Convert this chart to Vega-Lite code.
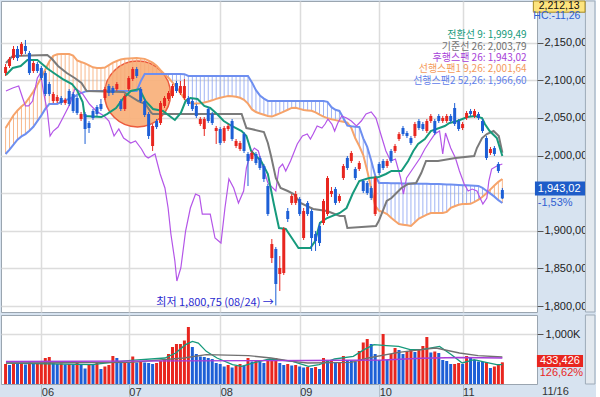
{
"$schema": "https://vega.github.io/schema/vega-lite/v6.json",
"padding": 0,
"autosize": {"type": "pad"},
"background": "#d7e3f0",
"spacing": 1,
"config": {
  "view": {"fill": "white", "stroke": "#9aa5b0", "strokeWidth": 1},
  "axis": {"labelFont": "Liberation Sans Narrow, Liberation Sans", "labelFontSize": 11, "labelColor": "#222", "gridColor": "#dcdcdc", "gridWidth": 1.5, "tickColor": "#555", "title": null, "labelOverlap": false},
  "text": {"font": "Noto Sans CJK KR", "fontSize": 11},
  "concat": {"spacing": 1}
},
"datasets": {
"d": [
{"i":-9,"o":2109.7,"h":2121.7,"l":2105.7,"c":2117.7,"v":400000,"a":2036.6,"b":2002.1},
{"i":-8,"o":2119.0,"h":2131.0,"l":2116.4,"c":2128.3,"v":380000,"a":2044.9,"b":2007.9},
{"i":-7,"o":2129.6,"h":2145.6,"l":2127.0,"c":2141.6,"v":410000,"a":2053.6,"b":2014.6},
{"i":-6,"o":2141.6,"h":2145.6,"l":2125.7,"c":2129.6,"v":400000,"a":2059.9,"b":2021.2},
{"i":-5,"o":2135.0,"h":2150.9,"l":2132.3,"c":2148.3,"v":420000,"a":2065.1,"b":2025.5},
{"i":-4,"o":2145.6,"h":2153.6,"l":2135.0,"c":2139.0,"v":390000,"a":2069.6,"b":2028.5},
{"i":-3,"o":2136.3,"h":2139.0,"l":2107.1,"c":2109.7,"v":430000,"a":2077.2,"b":2033.0},
{"i":-2,"o":2112.4,"h":2125.7,"l":2109.7,"c":2123.0,"v":400000,"a":2085.1,"b":2038.3},
{"i":-1,"o":2121.7,"h":2124.3,"l":2109.7,"c":2112.4,"v":410000,"a":2094.1,"b":2045.8},
{"i":0,"o":2116.4,"h":2119.0,"l":2100.4,"c":2103.1,"v":430000,"a":2103.6,"b":2053.4},
{"i":1,"o":2109.7,"h":2112.4,"l":2079.1,"c":2081.8,"v":520000,"a":2114.4,"b":2062.0},
{"i":2,"o":2095.1,"h":2097.7,"l":2079.1,"c":2081.8,"v":540000,"a":2125.0,"b":2068.5},
{"i":3,"o":2072.5,"h":2084.5,"l":2069.8,"c":2081.8,"v":420000,"a":2132.4,"b":2068.5},
{"i":4,"o":2072.5,"h":2080.5,"l":2069.8,"c":2077.8,"v":400000,"a":2134.6,"b":2068.5},
{"i":5,"o":2076.5,"h":2079.1,"l":2067.2,"c":2069.8,"v":410000,"a":2135.0,"b":2071.2},
{"i":6,"o":2069.8,"h":2076.5,"l":2067.2,"c":2073.8,"v":390000,"a":2135.0,"b":2073.6},
{"i":7,"o":2085.8,"h":2088.4,"l":2065.9,"c":2068.5,"v":400000,"a":2135.0,"b":2075.3},
{"i":8,"o":2081.8,"h":2084.5,"l":2056.6,"c":2059.2,"v":390000,"a":2132.8,"b":2077.5},
{"i":9,"o":2076.5,"h":2079.1,"l":2053.9,"c":2056.6,"v":420000,"a":2126.5,"b":2080.7},
{"i":10,"o":2048.6,"h":2057.9,"l":2045.9,"c":2055.2,"v":400000,"a":2124.3,"b":2082.9},
{"i":11,"o":2055.2,"h":2057.9,"l":2015.4,"c":2035.3,"v":310000,"a":2122.6,"b":2085.0},
{"i":12,"o":2043.3,"h":2045.9,"l":2030.0,"c":2036.6,"v":400000,"a":2119.9,"b":2085.8},
{"i":13,"o":2059.2,"h":2061.9,"l":2047.3,"c":2049.9,"v":390000,"a":2117.3,"b":2085.8},
{"i":14,"o":2064.5,"h":2067.2,"l":2052.6,"c":2055.2,"v":420000,"a":2116.4,"b":2085.8},
{"i":15,"o":2068.5,"h":2075.2,"l":2059.2,"c":2061.9,"v":300000,"a":2116.4,"b":2085.8},
{"i":16,"o":2076.5,"h":2091.1,"l":2073.8,"c":2088.4,"v":350000,"a":2117.0,"b":2085.8},
{"i":17,"o":2092.4,"h":2095.1,"l":2079.1,"c":2083.1,"v":380000,"a":2120.3,"b":2085.8},
{"i":18,"o":2089.8,"h":2092.4,"l":2080.5,"c":2083.1,"v":560000,"a":2123.5,"b":2085.8},
{"i":19,"o":2088.4,"h":2097.7,"l":2085.8,"c":2095.1,"v":520000,"a":2125.7,"b":2085.8},
{"i":20,"o":2072.5,"h":2075.2,"l":2059.2,"c":2061.9,"v":420000,"a":2127.8,"b":2085.8},
{"i":21,"o":2061.9,"h":2081.8,"l":2059.2,"c":2079.1,"v":430000,"a":2128.6,"b":2085.8},
{"i":22,"o":2088.4,"h":2105.7,"l":2085.8,"c":2103.1,"v":420000,"a":2129.0,"b":2085.8},
{"i":23,"o":2101.7,"h":2117.7,"l":2099.1,"c":2115.0,"v":550000,"a":2129.4,"b":2085.8},
{"i":24,"o":2115.0,"h":2117.7,"l":2103.1,"c":2105.7,"v":430000,"a":2129.5,"b":2085.8},
{"i":25,"o":2088.4,"h":2091.1,"l":2069.8,"c":2072.5,"v":440000,"a":2129.0,"b":2098.6},
{"i":26,"o":2072.5,"h":2075.2,"l":2051.2,"c":2053.9,"v":430000,"a":2128.5,"b":2108.4},
{"i":27,"o":2055.2,"h":2057.9,"l":2022.0,"c":2026.0,"v":420000,"a":2126.1,"b":2108.4},
{"i":28,"o":2012.7,"h":2041.9,"l":2006.1,"c":2039.3,"v":400000,"a":2123.4,"b":2108.4},
{"i":29,"o":2045.9,"h":2048.6,"l":2035.3,"c":2037.9,"v":420000,"a":2119.5,"b":2108.4},
{"i":30,"o":2043.3,"h":2072.5,"l":2040.6,"c":2069.8,"v":460000,"a":2113.4,"b":2108.4},
{"i":31,"o":2065.9,"h":2079.1,"l":2063.2,"c":2076.5,"v":500000,"a":2108.0,"b":2108.4},
{"i":32,"o":2075.2,"h":2085.8,"l":2072.5,"c":2083.1,"v":600000,"a":2103.3,"b":2108.4},
{"i":33,"o":2079.1,"h":2095.1,"l":2076.5,"c":2092.4,"v":740000,"a":2097.4,"b":2108.4},
{"i":34,"o":2096.4,"h":2099.1,"l":2083.1,"c":2085.8,"v":800000,"a":2090.6,"b":2108.4},
{"i":35,"o":2083.1,"h":2099.1,"l":2080.5,"c":2092.4,"v":800000,"a":2083.3,"b":2108.5},
{"i":36,"o":2076.5,"h":2101.7,"l":2073.8,"c":2092.4,"v":870000,"a":2075.6,"b":2108.2},
{"i":37,"o":2076.5,"h":2079.1,"l":2065.9,"c":2068.5,"v":1140000,"a":2070.9,"b":2105.7},
{"i":38,"o":2072.5,"h":2075.2,"l":2059.2,"c":2061.9,"v":740000,"a":2068.8,"b":2105.7},
{"i":39,"o":2065.9,"h":2068.5,"l":2049.9,"c":2052.6,"v":600000,"a":2069.2,"b":2105.7},
{"i":40,"o":2041.9,"h":2051.2,"l":2039.3,"c":2048.6,"v":550000,"a":2069.6,"b":2105.7},
{"i":41,"o":2035.3,"h":2051.2,"l":2026.0,"c":2048.6,"v":540000,"a":2070.5,"b":2105.7},
{"i":42,"o":2061.9,"h":2064.5,"l":2043.3,"c":2045.9,"v":520000,"a":2071.8,"b":2105.7},
{"i":43,"o":2055.2,"h":2057.9,"l":2040.6,"c":2043.3,"v":500000,"a":2073.4,"b":2105.7},
{"i":44,"o":2032.6,"h":2039.3,"l":2015.4,"c":2036.6,"v":420000,"a":2075.3,"b":2105.7},
{"i":45,"o":2035.3,"h":2037.9,"l":2014.0,"c":2016.7,"v":400000,"a":2076.8,"b":2105.7},
{"i":46,"o":2019.4,"h":2039.3,"l":2016.7,"c":2036.6,"v":350000,"a":2078.0,"b":2105.7},
{"i":47,"o":2035.3,"h":2041.9,"l":2032.6,"c":2039.3,"v":380000,"a":2079.0,"b":2105.7},
{"i":48,"o":2045.9,"h":2048.6,"l":2019.4,"c":2022.0,"v":330000,"a":2078.8,"b":2105.7},
{"i":49,"o":2012.7,"h":2022.0,"l":2010.0,"c":2019.4,"v":360000,"a":2078.2,"b":2105.7},
{"i":50,"o":2008.7,"h":2019.4,"l":2006.1,"c":2016.7,"v":400000,"a":2076.8,"b":2105.7},
{"i":51,"o":2028.6,"h":2031.3,"l":2003.4,"c":2006.1,"v":370000,"a":2074.1,"b":2105.7},
{"i":52,"o":2002.1,"h":2004.7,"l":1959.5,"c":1992.8,"v":520000,"a":2069.0,"b":2105.7},
{"i":53,"o":1995.4,"h":2006.1,"l":1992.8,"c":2003.4,"v":450000,"a":2061.3,"b":2097.2},
{"i":54,"o":2002.1,"h":2004.7,"l":1987.4,"c":1990.1,"v":480000,"a":2057.9,"b":2086.9},
{"i":55,"o":1996.8,"h":1999.4,"l":1980.8,"c":1983.5,"v":450000,"a":2055.9,"b":2079.9},
{"i":56,"o":1986.1,"h":1988.8,"l":1964.9,"c":1968.8,"v":420000,"a":2054.2,"b":2075.7},
{"i":57,"o":1959.5,"h":1962.2,"l":1919.7,"c":1922.3,"v":500000,"a":2052.6,"b":2072.6},
{"i":58,"o":1863.8,"h":1889.1,"l":1857.2,"c":1882.4,"v":500000,"a":2051.8,"b":2072.5},
{"i":59,"o":1875.8,"h":1878.5,"l":1800.75,"c":1829.3,"v":520000,"a":2053.9,"b":2072.5},
{"i":60,"o":1842.6,"h":1866.5,"l":1820.0,"c":1850.6,"v":420000,"a":2056.0,"b":2072.5},
{"i":61,"o":1843.9,"h":1905.0,"l":1841.3,"c":1902.4,"v":380000,"a":2058.4,"b":2072.5},
{"i":62,"o":1926.3,"h":1930.3,"l":1911.7,"c":1915.7,"v":400000,"a":2060.9,"b":2072.5},
{"i":63,"o":1937.0,"h":1948.9,"l":1934.3,"c":1946.3,"v":370000,"a":2063.3,"b":2072.5},
{"i":64,"o":1937.0,"h":1952.9,"l":1934.3,"c":1948.9,"v":380000,"a":2063.6,"b":2072.5},
{"i":65,"o":1942.3,"h":1944.9,"l":1919.7,"c":1922.3,"v":350000,"a":2062.0,"b":2072.5},
{"i":66,"o":1890.4,"h":1930.3,"l":1887.8,"c":1926.3,"v":330000,"a":2060.5,"b":2072.5},
{"i":67,"o":1937.0,"h":1939.6,"l":1919.7,"c":1922.3,"v":340000,"a":2060.0,"b":2072.5},
{"i":68,"o":1926.3,"h":1929.0,"l":1873.2,"c":1890.4,"v":320000,"a":2059.5,"b":2072.5},
{"i":69,"o":1895.7,"h":1899.7,"l":1873.2,"c":1886.4,"v":340000,"a":2057.4,"b":2072.5},
{"i":70,"o":1906.4,"h":1910.4,"l":1879.8,"c":1883.8,"v":300000,"a":2054.4,"b":2072.5},
{"i":71,"o":1910.4,"h":1942.3,"l":1907.7,"c":1939.6,"v":520000,"a":2051.8,"b":2072.5},
{"i":72,"o":1922.3,"h":1972.8,"l":1919.7,"c":1970.2,"v":480000,"a":2049.8,"b":2071.4},
{"i":73,"o":1948.9,"h":1958.2,"l":1944.9,"c":1952.9,"v":480000,"a":2048.2,"b":2064.3},
{"i":74,"o":1955.5,"h":1958.2,"l":1934.3,"c":1937.0,"v":420000,"a":2047.1,"b":2060.8},
{"i":75,"o":1939.6,"h":1948.9,"l":1937.0,"c":1946.3,"v":440000,"a":2045.9,"b":2059.3},
{"i":76,"o":1970.2,"h":1988.8,"l":1967.5,"c":1986.1,"v":560000,"a":2044.9,"b":2049.8},
{"i":77,"o":1996.8,"h":1999.4,"l":1980.8,"c":1983.5,"v":480000,"a":2043.8,"b":2039.7},
{"i":78,"o":1992.8,"h":2006.1,"l":1990.1,"c":2003.4,"v":470000,"a":2036.8,"b":2038.9},
{"i":79,"o":1982.1,"h":1984.8,"l":1967.5,"c":1970.2,"v":450000,"a":2022.9,"b":2038.3},
{"i":80,"o":1982.1,"h":1992.8,"l":1979.5,"c":1990.1,"v":660000,"a":2012.7,"b":2038.0},
{"i":81,"o":1966.2,"h":1968.8,"l":1950.2,"c":1952.9,"v":830000,"a":2000.7,"b":2022.9},
{"i":82,"o":1963.5,"h":1966.2,"l":1947.6,"c":1950.2,"v":900000,"a":1979.9,"b":2011.5},
{"i":83,"o":1956.9,"h":1959.5,"l":1940.9,"c":1943.6,"v":800000,"a":1955.9,"b":1993.4},
{"i":84,"o":1922.3,"h":1972.8,"l":1919.7,"c":1970.2,"v":600000,"a":1933.2,"b":1973.6},
{"i":85,"o":1988.8,"h":1991.4,"l":1974.2,"c":1976.8,"v":480000,"a":1926.6,"b":1963.5},
{"i":86,"o":1992.8,"h":1995.4,"l":1980.8,"c":1983.5,"v":1000000,"a":1924.9,"b":1963.4},
{"i":87,"o":1986.1,"h":1995.4,"l":1983.5,"c":1992.8,"v":480000,"a":1922.2,"b":1963.4},
{"i":88,"o":2006.1,"h":2008.7,"l":1990.1,"c":1992.8,"v":600000,"a":1917.5,"b":1963.3},
{"i":89,"o":2006.1,"h":2015.4,"l":2003.4,"c":2012.7,"v":720000,"a":1913.0,"b":1963.1},
{"i":90,"o":2022.0,"h":2031.3,"l":2019.4,"c":2028.6,"v":680000,"a":1908.9,"b":1963.1},
{"i":91,"o":2036.6,"h":2039.3,"l":2026.0,"c":2028.6,"v":600000,"a":1908.1,"b":1963.0},
{"i":92,"o":2030.0,"h":2032.6,"l":2023.3,"c":2026.0,"v":660000,"a":1907.3,"b":1962.9},
{"i":93,"o":2023.3,"h":2026.0,"l":2014.0,"c":2016.7,"v":700000,"a":1906.5,"b":1962.9},
{"i":94,"o":2026.0,"h":2044.6,"l":2023.3,"c":2041.9,"v":640000,"a":1911.3,"b":1962.7},
{"i":95,"o":2045.9,"h":2048.6,"l":2033.9,"c":2036.6,"v":700000,"a":1916.2,"b":1962.6},
{"i":96,"o":2041.9,"h":2044.6,"l":2032.6,"c":2035.3,"v":760000,"a":1918.9,"b":1962.6},
{"i":97,"o":2032.6,"h":2048.6,"l":2030.0,"c":2045.9,"v":940000,"a":1921.5,"b":1962.5},
{"i":98,"o":2045.9,"h":2055.2,"l":2043.3,"c":2052.6,"v":630000,"a":1923.7,"b":1962.3},
{"i":99,"o":2045.9,"h":2048.6,"l":2027.3,"c":2030.0,"v":650000,"a":1923.7,"b":1962.2},
{"i":100,"o":2052.6,"h":2055.2,"l":2043.3,"c":2045.9,"v":620000,"a":1923.7,"b":1962.2},
{"i":101,"o":2045.9,"h":2052.6,"l":2043.3,"c":2049.9,"v":480000,"a":1923.7,"b":1961.9},
{"i":102,"o":2045.9,"h":2055.2,"l":2043.3,"c":2052.6,"v":460000,"a":1925.1,"b":1961.7},
{"i":103,"o":2052.6,"h":2055.2,"l":2043.3,"c":2045.9,"v":400000,"a":1930.4,"b":1961.4},
{"i":104,"o":2063.2,"h":2069.8,"l":2039.3,"c":2041.9,"v":400000,"a":1932.6,"b":1961.1},
{"i":105,"o":2045.9,"h":2048.6,"l":2032.6,"c":2035.3,"v":420000,"a":1934.7,"b":1960.9},
{"i":106,"o":2036.6,"h":2044.6,"l":2033.9,"c":2041.9,"v":400000,"a":1935.6,"b":1960.7},
{"i":107,"o":2049.9,"h":2059.2,"l":2047.3,"c":2056.6,"v":560000,"a":1935.6,"b":1960.5},
{"i":108,"o":2059.2,"h":2061.9,"l":2052.6,"c":2055.2,"v":520000,"a":1935.9,"b":1960.2},
{"i":109,"o":2052.6,"h":2061.9,"l":2049.9,"c":2059.2,"v":480000,"a":1938.5,"b":1959.9},
{"i":110,"o":2055.2,"h":2057.9,"l":2047.3,"c":2049.9,"v":450000,"a":1941.3,"b":1959.7},
{"i":111,"o":2045.9,"h":2048.6,"l":2030.0,"c":2032.6,"v":440000,"a":1945.2,"b":1957.1},
{"i":112,"o":2023.3,"h":2026.0,"l":1994.1,"c":1996.8,"v":440000,"a":1949.8,"b":1953.3},
{"i":113,"o":2003.4,"h":2011.4,"l":2000.8,"c":2008.7,"v":320000,"a":1955.1,"b":1949.4},
{"i":114,"o":2010.0,"h":2012.7,"l":1999.4,"c":2002.1,"v":350000,"a":1960.3,"b":1945.4},
{"i":115,"o":1988.8,"h":1991.4,"l":1976.8,"c":1979.5,"v":400000,"a":1965.1,"b":1940.7},
{"i":116,"o":1954.2,"h":1956.9,"l":1942.3,"c":1943.02,"v":433426,"a":1968.8,"b":1936.9}
],
"tk": [
{"i":-8.9,"p":2107.1},{"i":-7.2,"p":2116.4},{"i":-5.2,"p":2119.0},{"i":-3.5,"p":2127.0},{"i":-1.0,"p":2127.0},{"i":0.2,"p":2121.7},{"i":1.7,"p":2115.0},{"i":3.5,"p":2108.4},{"i":5.4,"p":2101.7},{"i":7.7,"p":2095.1},{"i":9.1,"p":2085.8},{"i":10.4,"p":2071.2},{"i":10.9,"p":2052.6},{"i":15.1,"p":2051.2},{"i":16.5,"p":2055.2},{"i":18.8,"p":2063.2},{"i":20.7,"p":2076.5},{"i":22.5,"p":2085.8},{"i":24.7,"p":2088.4},{"i":26.2,"p":2072.5},{"i":28.1,"p":2061.9},{"i":30.6,"p":2059.2},{"i":32.6,"p":2051.2},{"i":33.6,"p":2047.3},{"i":35.1,"p":2056.6},{"i":36.3,"p":2072.5},{"i":37.5,"p":2076.5},{"i":39.3,"p":2075.2},{"i":41.0,"p":2065.9},{"i":42.5,"p":2063.2},{"i":44.2,"p":2055.2},{"i":45.9,"p":2045.9},{"i":47.9,"p":2039.3},{"i":50.4,"p":2032.6},{"i":51.6,"p":2026.0},{"i":52.8,"p":2006.1},{"i":55.3,"p":1992.8},{"i":57.0,"p":1975.5},{"i":58.5,"p":1935.6},{"i":59.8,"p":1903.7},{"i":61.5,"p":1902.4},{"i":63.2,"p":1889.1},{"i":64.7,"p":1877.1},{"i":67.7,"p":1877.1},{"i":68.9,"p":1886.4},{"i":70.1,"p":1910.4},{"i":71.9,"p":1917.0},{"i":75.1,"p":1923.7},{"i":76.8,"p":1930.3},{"i":78.3,"p":1948.9},{"i":80.0,"p":1966.2},{"i":82.5,"p":1970.2},{"i":84.9,"p":1971.5},{"i":86.7,"p":1975.5},{"i":88.1,"p":1979.5},{"i":90.6,"p":1979.5},{"i":92.3,"p":1992.8},{"i":93.6,"p":2006.1},{"i":94.8,"p":2015.4},{"i":96.5,"p":2022.0},{"i":98.0,"p":2032.6},{"i":101.5,"p":2039.3},{"i":102.7,"p":2043.3},{"i":104.7,"p":2045.9},{"i":107.2,"p":2051.2},{"i":109.1,"p":2052.6},{"i":110.9,"p":2049.9},{"i":111.6,"p":2041.9},{"i":112.8,"p":2032.6},{"i":114.6,"p":2023.3},{"i":116.0,"p":1999.5}
],
"kj": [
{"i":-8.9,"p":2123.0},{"i":-7.2,"p":2132.3},{"i":1.5,"p":2133.6},{"i":2.7,"p":2128.3},{"i":4.2,"p":2119.0},{"i":6.4,"p":2109.7},{"i":8.4,"p":2103.1},{"i":10.1,"p":2096.4},{"i":11.4,"p":2085.8},{"i":20.7,"p":2084.5},{"i":21.5,"p":2081.8},{"i":24.4,"p":2072.5},{"i":26.2,"p":2068.5},{"i":27.7,"p":2056.6},{"i":28.1,"p":2055.2},{"i":50.4,"p":2055.2},{"i":51.6,"p":2036.6},{"i":52.8,"p":2035.3},{"i":56.0,"p":2031.3},{"i":57.0,"p":2016.7},{"i":57.8,"p":1999.4},{"i":59.0,"p":1970.2},{"i":60.2,"p":1956.9},{"i":62.0,"p":1952.9},{"i":63.5,"p":1948.9},{"i":65.2,"p":1937.0},{"i":68.4,"p":1929.0},{"i":71.9,"p":1926.3},{"i":75.1,"p":1919.7},{"i":76.3,"p":1919.7},{"i":77.0,"p":1903.7},{"i":84.2,"p":1906.4},{"i":84.9,"p":1913.0},{"i":86.2,"p":1930.3},{"i":86.9,"p":1939.6},{"i":88.1,"p":1943.6},{"i":89.1,"p":1948.9},{"i":90.6,"p":1956.9},{"i":92.3,"p":1962.2},{"i":94.3,"p":1963.5},{"i":95.6,"p":1976.8},{"i":96.8,"p":1992.8},{"i":99.8,"p":1992.8},{"i":104.2,"p":1996.8},{"i":108.9,"p":1999.4},{"i":109.6,"p":2010.0},{"i":110.9,"p":2023.3},{"i":112.1,"p":2028.6},{"i":113.8,"p":2032.6},{"i":115.1,"p":2026.0},{"i":116.0,"p":2003.8}
],
"ck": [
{"i":-8.9,"p":2085.8},{"i":-7.2,"p":2089.8},{"i":-5.7,"p":2092.4},{"i":-4.7,"p":2076.5},{"i":-4.0,"p":2065.9},{"i":-3.2,"p":2065.9},{"i":-2.2,"p":2072.5},{"i":-1.0,"p":2103.1},{"i":-0.2,"p":2109.7},{"i":0.5,"p":2085.8},{"i":1.5,"p":2059.2},{"i":2.2,"p":2026.0},{"i":3.0,"p":2032.6},{"i":4.2,"p":2037.9},{"i":5.4,"p":2049.9},{"i":7.2,"p":2068.5},{"i":8.4,"p":2088.4},{"i":8.9,"p":2088.4},{"i":10.4,"p":2081.8},{"i":12.1,"p":2068.5},{"i":13.8,"p":2059.2},{"i":15.8,"p":2052.6},{"i":17.0,"p":2045.9},{"i":18.3,"p":2026.0},{"i":19.5,"p":2035.3},{"i":20.7,"p":2023.3},{"i":22.5,"p":2016.7},{"i":23.7,"p":2019.4},{"i":25.2,"p":2008.7},{"i":26.2,"p":1999.4},{"i":26.9,"p":1996.8},{"i":28.6,"p":2002.1},{"i":29.9,"p":1975.5},{"i":31.1,"p":1956.9},{"i":31.9,"p":1930.3},{"i":32.6,"p":1895.7},{"i":33.6,"p":1859.9},{"i":34.1,"p":1833.3},{"i":35.1,"p":1850.6},{"i":36.3,"p":1899.7},{"i":37.5,"p":1930.3},{"i":38.8,"p":1948.9},{"i":39.8,"p":1946.3},{"i":40.5,"p":1922.3},{"i":42.5,"p":1922.3},{"i":43.7,"p":1890.4},{"i":45.2,"p":1883.8},{"i":46.2,"p":1930.3},{"i":47.2,"p":1968.8},{"i":48.4,"p":1956.9},{"i":49.6,"p":1937.0},{"i":50.9,"p":1952.9},{"i":51.6,"p":1983.5},{"i":52.6,"p":2002.1},{"i":53.6,"p":2010.0},{"i":54.6,"p":2006.1},{"i":55.3,"p":1992.8},{"i":57.0,"p":1963.5},{"i":59.0,"p":1952.9},{"i":59.8,"p":1983.5},{"i":60.7,"p":1988.8},{"i":61.5,"p":1979.5},{"i":62.7,"p":1992.8},{"i":64.4,"p":2015.4},{"i":65.7,"p":2026.0},{"i":66.9,"p":2028.6},{"i":67.7,"p":2022.0},{"i":68.4,"p":2028.6},{"i":69.4,"p":2039.3},{"i":70.6,"p":2036.6},{"i":71.4,"p":2041.9},{"i":72.1,"p":2048.6},{"i":73.1,"p":2041.9},{"i":73.8,"p":2032.6},{"i":74.6,"p":2043.3},{"i":75.6,"p":2052.6},{"i":76.8,"p":2049.9},{"i":78.0,"p":2045.9},{"i":79.3,"p":2039.3},{"i":80.5,"p":2045.9},{"i":81.7,"p":2055.2},{"i":83.0,"p":2057.9},{"i":84.2,"p":2049.9},{"i":85.4,"p":2028.6},{"i":86.7,"p":2006.1},{"i":87.9,"p":1992.8},{"i":89.1,"p":1995.4},{"i":90.4,"p":1970.2},{"i":91.1,"p":1948.9},{"i":91.9,"p":1970.2},{"i":93.6,"p":1983.5},{"i":95.3,"p":1996.8},{"i":96.5,"p":2008.7},{"i":97.8,"p":2019.4},{"i":99.0,"p":2028.6},{"i":100.2,"p":2032.6},{"i":101.0,"p":2002.1},{"i":101.7,"p":2030.0},{"i":103.0,"p":2010.0},{"i":104.2,"p":1996.8},{"i":105.2,"p":1979.5},{"i":106.4,"p":1962.2},{"i":107.4,"p":1952.9},{"i":108.4,"p":1955.5},{"i":109.6,"p":1952.9},{"i":110.4,"p":1943.6},{"i":111.1,"p":1935.6},{"i":112.1,"p":1943.6},{"i":112.6,"p":1966.2},{"i":113.3,"p":1982.1},{"i":114.6,"p":1986.1},{"i":116.0,"p":1988.8}
],
"vm": [
{"s":"m5","i":-8.9,"v":420000},{"s":"m5","i":12.8,"v":387000},{"s":"m5","i":17.7,"v":433000},{"s":"m5","i":22.5,"v":473000},{"s":"m5","i":31.1,"v":520000},{"s":"m5","i":33.8,"v":620000},{"s":"m5","i":36.3,"v":787000},{"s":"m5","i":38.0,"v":853000},{"s":"m5","i":39.5,"v":820000},{"s":"m5","i":41.5,"v":653000},{"s":"m5","i":44.2,"v":520000},{"s":"m5","i":48.1,"v":387000},{"s":"m5","i":50.4,"v":353000},{"s":"m5","i":53.8,"v":433000},{"s":"m5","i":57.5,"v":500000},{"s":"m5","i":63.2,"v":453000},{"s":"m5","i":67.2,"v":353000},{"s":"m5","i":69.9,"v":387000},{"s":"m5","i":73.8,"v":500000},{"s":"m5","i":78.5,"v":553000},{"s":"m5","i":81.2,"v":687000},{"s":"m5","i":83.7,"v":787000},{"s":"m5","i":86.9,"v":767000},{"s":"m5","i":89.9,"v":753000},{"s":"m5","i":92.8,"v":687000},{"s":"m5","i":95.6,"v":687000},{"s":"m5","i":100.2,"v":753000},{"s":"m5","i":103.2,"v":587000},{"s":"m5","i":105.9,"v":420000},{"s":"m5","i":108.9,"v":487000},{"s":"m5","i":111.9,"v":433000},{"s":"m5","i":114.6,"v":387000},{"s":"m5","i":116.0,"v":387000},
{"s":"m20","i":-8.9,"v":420000},{"s":"m20","i":22.5,"v":433000},{"s":"m20","i":35.8,"v":520000},{"s":"m20","i":41.5,"v":587000},{"s":"m20","i":52.1,"v":567000},{"s":"m20","i":57.8,"v":520000},{"s":"m20","i":63.2,"v":453000},{"s":"m20","i":67.0,"v":420000},{"s":"m20","i":78.0,"v":433000},{"s":"m20","i":82.2,"v":520000},{"s":"m20","i":89.9,"v":633000},{"s":"m20","i":95.6,"v":687000},{"s":"m20","i":99.3,"v":720000},{"s":"m20","i":105.2,"v":620000},{"s":"m20","i":109.9,"v":567000},{"s":"m20","i":116.0,"v":540000},
{"s":"m60","i":-8.9,"v":450000},{"s":"m60","i":67.0,"v":470000},{"s":"m60","i":86.0,"v":480000},{"s":"m60","i":95.6,"v":515000},{"s":"m60","i":105.0,"v":530000},{"s":"m60","i":116.0,"v":520000}
],
"lab": [
{"k":"tk","i":122.1,"p":2160.2,"t":"전환선 9: 1,999,49"},
{"k":"kj","i":122.1,"p":2144.9,"t":"기준선 26: 2,003,79"},
{"k":"ck","i":122.1,"p":2129.6,"t":"후행스팬 26: 1,943,02"},
{"k":"s1","i":122.1,"p":2114.4,"t":"선행스팬1 9,26: 2,001,64"},
{"k":"s2","i":122.1,"p":2099.1,"t":"선행스팬2 52,26: 1,966,60"}
]
},
"vconcat": [
{
"width": 536, "height": 311,
"encoding": {"x": {"field": "i", "type": "quantitative", "scale": {"domain": [-8.89, 123.46], "nice": false, "zero": false}, "axis": {"orient": "bottom", "values": [0,22,45,65,85,106], "labels": false, "ticks": false, "domain": false, "grid": true, "title": null}}},
"layer": [
{"data": {"values": [{"i": 24.2, "p": 2081.8}]}, "mark": {"type": "point", "shape": "circle", "size": 4356, "filled": true, "fill": "#f8b07a", "fillOpacity": 0.92, "stroke": "#ec5a3c", "strokeWidth": 1.5, "opacity": 1, "clip": true},
 "encoding": {"y": {"field": "p", "type": "quantitative", "scale": {"domain": [1792.1, 2205.4], "nice": false, "zero": false},
   "axis": {"orient": "right", "values": [1800,1850,1900,1950,2000,2050,2100,2150],
     "labelExpr": "datum.value == 1950 ? '' : replace(format(datum.value, ',.2f'), '.', ',')",
     "tickSize": 6, "grid": true, "domain": false, "labelPadding": 1, "labelOverlap": false, "labelFlush": false, "labelBound": false, "labelBaseline": "middle", "title": null}}}},
{"data": {"name": "d"}, "mark": {"type": "rule", "strokeWidth": 1, "clip": true, "opacity": 0.85},
 "encoding": {"y": {"field": "a", "type": "quantitative", "scale": {"domain": [1792.1, 2205.4], "nice": false, "zero": false}},
   "y2": {"field": "b"},
   "color": {"condition": {"test": "datum.a >= datum.b", "value": "#f7ab78"}, "value": "#8ea6f2"}}},
{"data": {"name": "d"}, "mark": {"type": "line", "strokeWidth": 2, "color": "#f6a36a", "clip": true},
 "encoding": {"y": {"field": "a", "type": "quantitative", "scale": {"domain": [1792.1, 2205.4], "nice": false, "zero": false}}}},
{"data": {"name": "d"}, "mark": {"type": "line", "strokeWidth": 2, "color": "#6e8ff0", "clip": true},
 "encoding": {"y": {"field": "b", "type": "quantitative", "scale": {"domain": [1792.1, 2205.4], "nice": false, "zero": false}}}},
{"data": {"name": "ck"}, "mark": {"type": "line", "strokeWidth": 1.2, "color": "#b455e8", "clip": true},
 "encoding": {"y": {"field": "p", "type": "quantitative", "scale": {"domain": [1792.1, 2205.4], "nice": false, "zero": false}}}},
{"data": {"name": "kj"}, "mark": {"type": "line", "strokeWidth": 2, "color": "#7a7a7a", "clip": true},
 "encoding": {"y": {"field": "p", "type": "quantitative", "scale": {"domain": [1792.1, 2205.4], "nice": false, "zero": false}}}},
{"data": {"name": "tk"}, "mark": {"type": "line", "strokeWidth": 2, "color": "#169a7c", "clip": true},
 "encoding": {"y": {"field": "p", "type": "quantitative", "scale": {"domain": [1792.1, 2205.4], "nice": false, "zero": false}}}},
{"data": {"name": "d"}, "mark": {"type": "rule", "strokeWidth": 1, "clip": true},
 "encoding": {"y": {"field": "l", "type": "quantitative", "scale": {"domain": [1792.1, 2205.4], "nice": false, "zero": false}}, "y2": {"field": "h"},
   "color": {"condition": {"test": "datum.c >= datum.o", "value": "#e8261f"}, "value": "#1d5fd6"}}},
{"data": {"name": "d"}, "mark": {"type": "bar", "size": 3, "clip": true},
 "encoding": {"y": {"field": "o", "type": "quantitative", "scale": {"domain": [1792.1, 2205.4], "nice": false, "zero": false}}, "y2": {"field": "c"},
   "color": {"condition": {"test": "datum.c >= datum.o", "value": "#e8261f"}, "value": "#1d5fd6"}}},
{"data": {"name": "lab"}, "mark": {"type": "text", "align": "right", "baseline": "middle", "font": "Noto Sans CJK KR", "fontSize": 10},
 "encoding": {"y": {"field": "p", "type": "quantitative", "scale": {"domain": [1792.1, 2205.4], "nice": false, "zero": false}}, "text": {"field": "t"},
   "color": {"field": "k", "type": "nominal", "scale": {"domain": ["tk","kj","ck","s1","s2"], "range": ["#169a7c","#707070","#a63ed8","#f39a5c","#5f80ea"]}, "legend": null}}},
{"data": {"values": [{"i": 58.5, "p": 1804.0, "t": "최저 1,800,75 (08/24) →"}]}, "mark": {"type": "text", "align": "right", "baseline": "middle", "font": "Noto Sans CJK KR", "fontSize": 11, "color": "#2a2ad0"},
 "encoding": {"y": {"field": "p", "type": "quantitative", "scale": {"domain": [1792.1, 2205.4], "nice": false, "zero": false}}, "text": {"field": "t"}}},
{"data": {"values": [{"i": 136.9, "i2": 139.3}]}, "mark": {"type": "rect", "fill": "#e3e9ef", "stroke": "#9eabb8", "strokeWidth": 1},
 "encoding": {"x2": {"field": "i2"}, "y": {"datum": 1792.1, "type": "quantitative", "scale": {"domain": [1792.1, 2205.4], "nice": false, "zero": false}}, "y2": {"datum": 2205.4}}},
{"data": {"values": [{"i": 123.8, "i2": 136.8, "p": 2205.4, "p2": 2190.5}]}, "mark": {"type": "rect", "fill": "#fde47e", "stroke": "#a88a20", "strokeWidth": 1},
 "encoding": {"x2": {"field": "i2"}, "y": {"field": "p", "type": "quantitative", "scale": {"domain": [1792.1, 2205.4], "nice": false, "zero": false}}, "y2": {"field": "p2"}}},
{"data": {"values": [{"i": 124.2, "i2": 136.8, "p": 1965.5, "p2": 1946.9}]}, "mark": {"type": "rect", "fill": "#1e5cc8"},
 "encoding": {"x2": {"field": "i2"}, "y": {"field": "p", "type": "quantitative", "scale": {"domain": [1792.1, 2205.4], "nice": false, "zero": false}}, "y2": {"field": "p2"}}},
{"data": {"values": [{"i": 130.3, "p": 2198.6, "t": "2,212,13"}]}, "mark": {"type": "text", "align": "center", "baseline": "middle", "font": "Liberation Sans Narrow, Liberation Sans", "fontSize": 10.5, "color": "#111"},
 "encoding": {"y": {"field": "p", "type": "quantitative", "scale": {"domain": [1792.1, 2205.4], "nice": false, "zero": false}}, "text": {"field": "t"}}},
{"data": {"values": [{"i": 123.8, "p": 2185.2, "t": "HC:-11,26"}]}, "mark": {"type": "text", "align": "left", "baseline": "middle", "font": "Liberation Sans Narrow, Liberation Sans", "fontSize": 10.5, "color": "#2f5fd0"},
 "encoding": {"y": {"field": "p", "type": "quantitative", "scale": {"domain": [1792.1, 2205.4], "nice": false, "zero": false}}, "text": {"field": "t"}}},
{"data": {"values": [{"i": 130.3, "p": 1956.2, "t": "1,943,02"}]}, "mark": {"type": "text", "align": "center", "baseline": "middle", "font": "Liberation Sans Narrow, Liberation Sans", "fontSize": 11, "color": "#ffffff"},
 "encoding": {"y": {"field": "p", "type": "quantitative", "scale": {"domain": [1792.1, 2205.4], "nice": false, "zero": false}}, "text": {"field": "t"}}},
{"data": {"values": [{"i": 124.9, "p": 1937.6, "t": "-1,53%"}]}, "mark": {"type": "text", "align": "left", "baseline": "middle", "font": "Liberation Sans Narrow, Liberation Sans", "fontSize": 11, "color": "#2f5fd0"},
 "encoding": {"y": {"field": "p", "type": "quantitative", "scale": {"domain": [1792.1, 2205.4], "nice": false, "zero": false}}, "text": {"field": "t"}}}
]
},
{
"width": 536, "height": 69,
"encoding": {"x": {"field": "i", "type": "quantitative", "scale": {"domain": [-8.89, 123.46], "nice": false, "zero": false},
  "axis": {"orient": "bottom", "values": [0,22,45,65,85,106], "labelExpr": "datum.value == 0 ? '06' : datum.value == 22 ? '07' : datum.value == 45 ? '08' : datum.value == 65 ? '09' : datum.value == 85 ? '10' : '11'",
    "grid": true, "domain": false, "tickSize": 15, "tickColor": "#b3c0cd", "labelAlign": "left", "labelBaseline": "top", "labelPadding": -13, "labelDx": 2, "labelColor": "#333", "labelOverlap": false, "labelFlush": false, "labelBound": false, "title": null}}},
"layer": [
{"data": {"name": "d"}, "transform": [{"window": [{"op": "lag", "field": "v", "as": "pv"}], "sort": [{"field": "i"}]}],
 "mark": {"type": "bar", "size": 3, "clip": true},
 "encoding": {"y": {"field": "v", "type": "quantitative", "scale": {"domain": [0, 1380000], "nice": false, "zero": false},
   "axis": {"orient": "right", "values": [1000000], "labelExpr": "'1,000K'",
     "tickSize": 6, "grid": true, "domain": false, "labelPadding": 2, "labelOverlap": false, "labelFlush": false, "labelBound": false, "labelBaseline": "middle", "title": null}},
   "y2": {"datum": 0},
   "color": {"condition": {"test": "datum.pv == null || datum.v >= datum.pv", "value": "#e8261f"}, "value": "#1d5fd6"}}},
{"data": {"name": "vm"}, "mark": {"type": "line", "strokeWidth": 1.3, "clip": true},
 "encoding": {"y": {"field": "v", "type": "quantitative", "scale": {"domain": [0, 1380000], "nice": false, "zero": false}},
   "color": {"field": "s", "type": "nominal", "scale": {"domain": ["m5","m20","m60"], "range": ["#e553d9","#f3b13c","#3a9c3f"]}, "legend": null}}},
{"data": {"values": [{"i": 136.9, "i2": 139.3}]}, "mark": {"type": "rect", "fill": "#e3e9ef", "stroke": "#9eabb8", "strokeWidth": 1},
 "encoding": {"x2": {"field": "i2"}, "y": {"datum": 0, "type": "quantitative", "scale": {"domain": [0, 1380000], "nice": false, "zero": false}}, "y2": {"datum": 1380000}}},
{"data": {"values": [{"i": 124.7, "i2": 136.3, "v": 580000, "v2": 340000}]}, "mark": {"type": "rect", "fill": "#e8261f"},
 "encoding": {"x2": {"field": "i2"}, "y": {"field": "v", "type": "quantitative", "scale": {"domain": [0, 1380000], "nice": false, "zero": false}}, "y2": {"field": "v2"}}},
{"data": {"values": [{"i": 130.5, "v": 460000, "t": "433,426"}]}, "mark": {"type": "text", "align": "center", "baseline": "middle", "font": "Liberation Sans Narrow, Liberation Sans", "fontSize": 11, "color": "#ffffff"},
 "encoding": {"y": {"field": "v", "type": "quantitative", "scale": {"domain": [0, 1380000], "nice": false, "zero": false}}, "text": {"field": "t"}}},
{"data": {"values": [{"i": 125.4, "v": 230000, "t": "126,62%"}]}, "mark": {"type": "text", "align": "left", "baseline": "middle", "font": "Liberation Sans Narrow, Liberation Sans", "fontSize": 11, "color": "#e8261f"},
 "encoding": {"y": {"field": "v", "type": "quantitative", "scale": {"domain": [0, 1380000], "nice": false, "zero": false}}, "text": {"field": "t"}}},
{"data": {"values": [{"i": 126.0, "v": -150000, "t": "11/16"}]}, "mark": {"type": "text", "align": "left", "baseline": "middle", "font": "Liberation Sans Narrow, Liberation Sans", "fontSize": 11, "color": "#333"},
 "encoding": {"y": {"field": "v", "type": "quantitative", "scale": {"domain": [0, 1380000], "nice": false, "zero": false}}, "text": {"field": "t"}}}
]
}
]
}
